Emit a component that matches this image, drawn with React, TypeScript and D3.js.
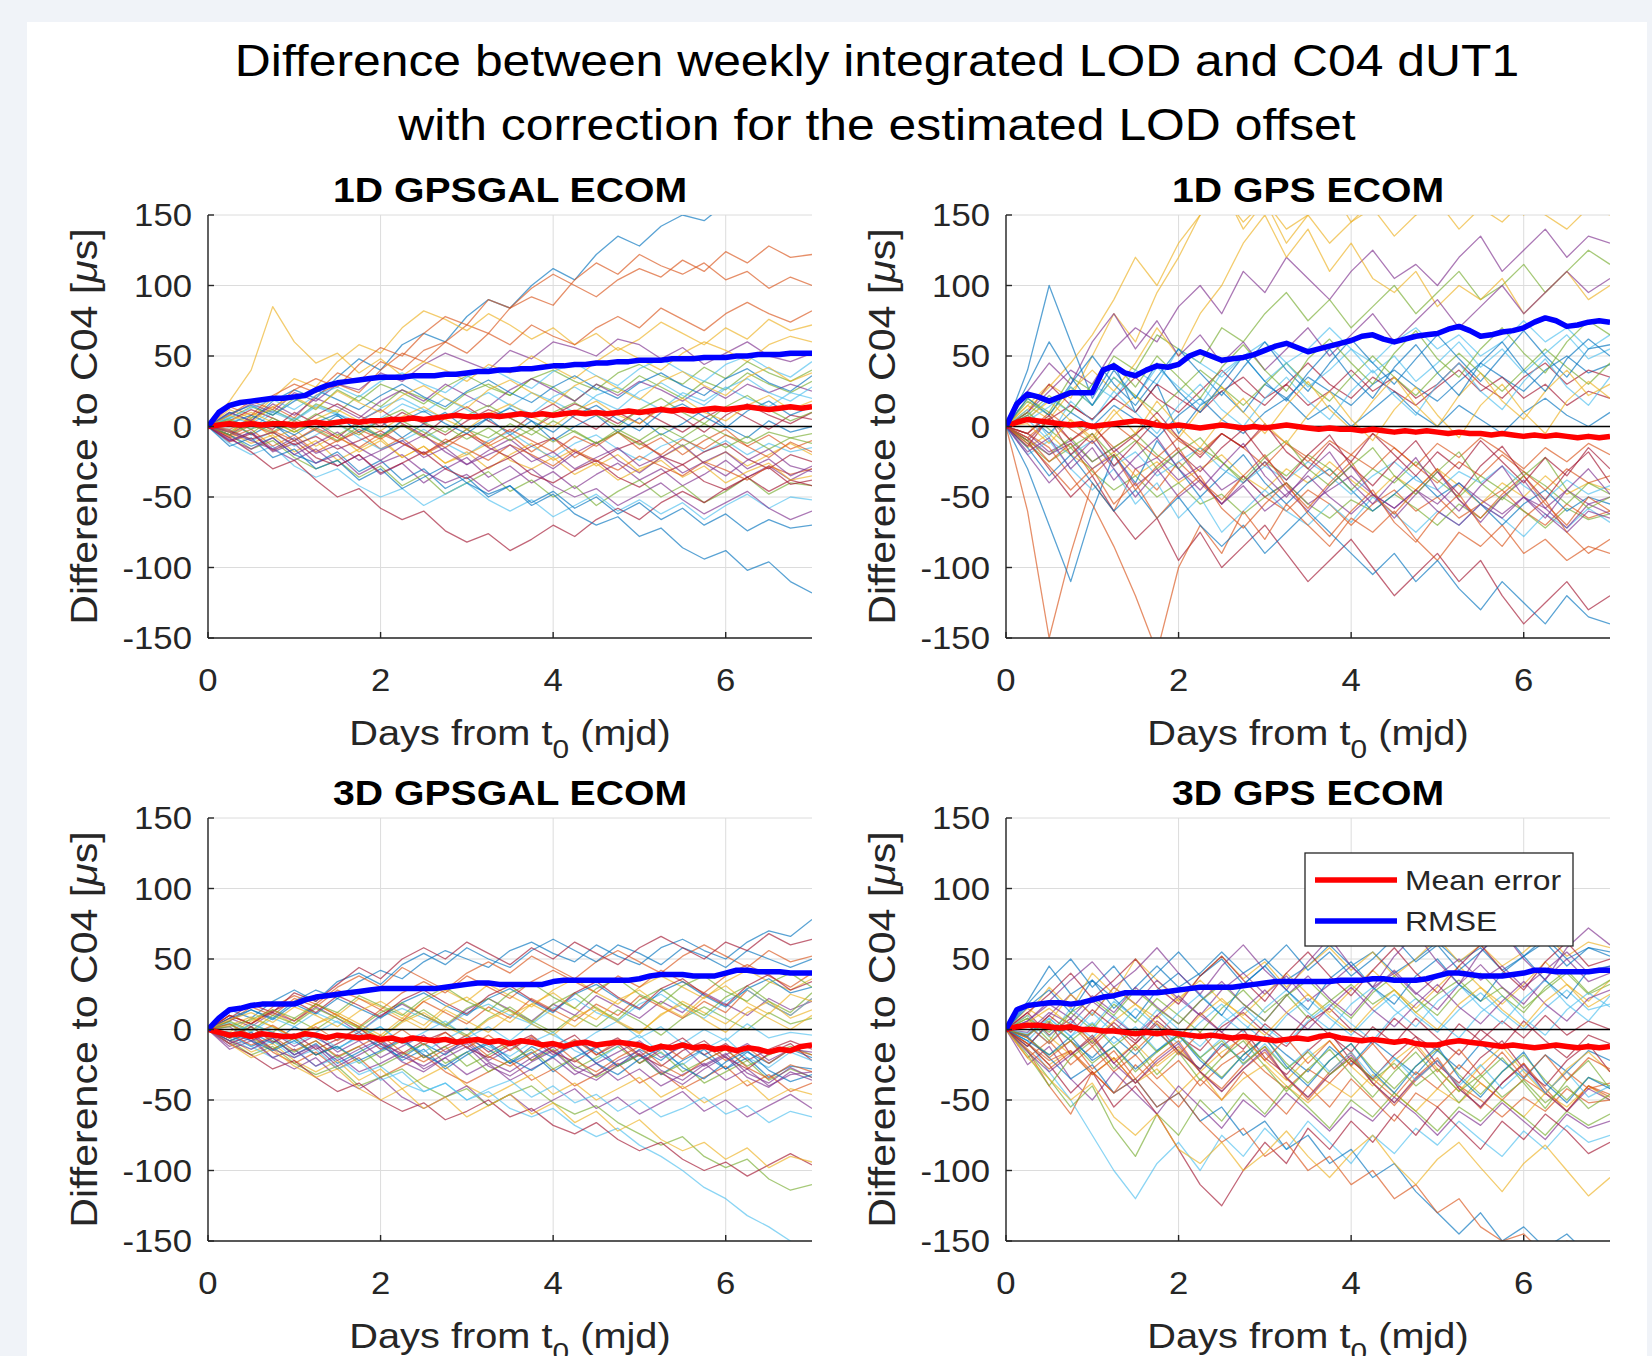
import React from 'react';
import * as d3 from 'd3';

// MATLAB-like figure: 2x2 spaghetti plots of dUT1 differences with mean / RMSE
const FIG_TITLE = ['Difference between weekly integrated LOD and C04 dUT1', 'with correction for the estimated LOD offset'];
const PANEL_TITLES = ['1D GPSGAL ECOM', '1D GPS ECOM', '3D GPSGAL ECOM', '3D GPS ECOM'];
const X_TICKS = [0, 2, 4, 6];
const Y_TICKS = [-150, -100, -50, 0, 50, 100, 150];
const LEGEND_LABELS = ['Mean error', 'RMSE'];
const LINE_COLORS = ['#0072BD', '#D95319', '#EDB120', '#7E2F8E', '#77AC30', '#4DBEEE', '#A2142F'];

const RUN_STEP = 0.25; // days between samples of the individual weeks
const STAT_STEP = 0.125; // days between samples of mean / RMSE

const RUNS_1D_GPSGAL = [
  [0,10,4,18,26,20,35,48,40,58,66,60,78,90,84,100,112,104,122,135,128,142,150,146,158,152,164,158,166],
  [0,-6,8,14,6,22,30,24,40,52,46,60,72,66,84,92,86,104,116,108,122,114,108,116,104,110,98,106,100],
  [0,12,6,20,34,28,46,58,52,70,82,76,68,80,72,62,70,58,66,54,62,74,66,58,70,62,76,68,72],
  [0,8,16,10,24,18,30,26,38,32,44,52,46,40,54,48,60,56,50,62,58,48,56,44,52,60,50,46,52],
  [0,-4,6,12,4,16,10,22,14,26,20,12,24,30,22,34,28,18,30,24,36,28,20,32,26,38,30,24,32],
  [0,6,-2,10,4,14,8,-4,6,16,10,20,12,4,14,24,18,10,22,28,20,12,24,18,28,20,14,24,20],
  [0,-6,4,-2,10,2,-8,4,12,2,-6,6,14,4,-4,8,16,6,-2,10,2,14,6,-4,8,16,8,2,10],
  [0,4,-6,2,-10,-2,8,-4,4,-8,2,10,-2,6,-6,4,-10,0,8,-4,6,-6,2,12,0,-8,4,-4,0],
  [0,-8,-2,-14,-6,-18,-10,-4,-16,-8,-20,-12,-2,-14,-6,-18,-8,-22,-12,-4,-16,-8,-20,-10,-2,-14,-6,-16,-10],
  [0,-4,-12,-6,-18,-10,-24,-16,-8,-22,-14,-26,-18,-30,-20,-12,-24,-16,-28,-20,-32,-22,-14,-26,-18,-28,-20,-12,-20],
  [0,-10,-4,-16,-24,-16,-28,-20,-34,-26,-40,-30,-22,-36,-28,-40,-32,-44,-34,-26,-38,-30,-42,-34,-24,-36,-28,-38,-30],
  [0,-6,-16,-10,-22,-30,-24,-36,-28,-42,-34,-48,-40,-32,-46,-38,-50,-42,-56,-46,-38,-50,-42,-54,-46,-36,-48,-40,-42],
  [0,-12,-20,-14,-28,-36,-30,-42,-50,-44,-56,-48,-40,-52,-60,-52,-64,-56,-48,-60,-52,-62,-54,-66,-56,-48,-58,-50,-52],
  [0,-8,-18,-30,-24,-38,-50,-44,-58,-66,-60,-74,-82,-76,-88,-80,-70,-78,-66,-58,-66,-54,-46,-54,-44,-36,-46,-38,-42],
  [0,-6,-14,-8,-20,-26,-18,-32,-24,-38,-30,-44,-36,-50,-42,-56,-48,-62,-70,-64,-78,-72,-86,-94,-88,-102,-96,-110,-118],
  [0,14,8,22,30,24,38,32,46,40,54,60,52,66,58,72,64,58,70,78,70,84,76,68,80,88,80,74,82],
  [0,18,40,85,60,45,52,38,48,36,46,40,32,44,38,50,42,34,46,56,48,40,52,60,54,46,58,64,60],
  [0,-10,-4,-18,-12,-26,-20,-34,-26,-20,-32,-40,-34,-46,-38,-30,-42,-50,-44,-56,-48,-40,-52,-62,-54,-46,-58,-66,-60],
  [0,6,14,8,20,12,26,18,30,24,16,28,36,28,22,34,40,32,26,38,44,36,30,42,34,46,38,32,40],
  [0,-2,-10,-4,-14,-6,2,-8,-16,-10,-2,-12,-20,-10,-4,-14,-22,-12,-6,-16,-24,-14,-8,-18,-10,-20,-12,-18,-15],
  [0,4,12,6,-2,8,16,8,0,10,2,-6,4,12,6,-2,8,16,10,2,12,4,-4,6,14,6,-2,8,5],
  [0,-14,-8,-22,-16,-30,-24,-38,-30,-44,-36,-28,-40,-48,-42,-54,-46,-58,-50,-62,-54,-66,-58,-70,-62,-74,-66,-72,-70],
  [0,8,18,12,26,34,28,44,56,50,66,78,72,90,84,98,108,100,92,104,112,106,118,110,124,116,128,120,122],
  [0,-4,4,-8,-2,-14,-6,-18,-10,-22,-14,-26,-20,-12,-24,-30,-22,-34,-26,-38,-30,-24,-36,-28,-40,-32,-26,-38,-35],
  [0,10,4,16,8,20,14,6,18,26,18,30,22,14,26,34,26,18,30,22,32,26,18,28,20,30,24,30,25],
  [0,-6,2,-4,6,-2,-10,0,-8,4,-4,-12,-2,-8,2,-6,4,-4,-12,-2,-10,0,-8,2,-6,-12,-4,-8,-5],
  [0,7,2,11,5,15,9,3,13,20,12,6,17,24,15,9,21,28,19,12,25,31,22,15,27,34,24,18,28],
  [0,-3,-9,-4,-13,-7,-16,-10,-3,-12,-19,-11,-5,-15,-22,-14,-8,-18,-25,-16,-10,-21,-27,-18,-12,-23,-30,-20,-25],
  [0,9,15,8,18,26,19,12,22,30,21,14,25,33,24,17,28,36,27,20,31,38,29,22,34,41,31,25,36],
  [0,-7,1,-5,4,-3,-11,-2,-9,1,-7,-15,-5,-12,-2,-10,-18,-7,-14,-4,-12,-20,-9,-16,-6,-14,-22,-11,-18],
  [0,4,10,3,-4,5,12,4,-3,7,14,5,-2,9,16,7,0,11,18,8,2,13,20,10,4,15,22,12,18],
  [0,-9,-16,-8,-20,-12,-4,-15,-24,-14,-6,-18,-27,-17,-9,-21,-30,-19,-11,-24,-33,-22,-13,-26,-35,-24,-16,-28,-32],
  [0,3,-5,6,-1,9,2,-6,5,12,3,-4,8,15,6,-2,10,17,8,0,12,20,10,2,14,22,12,4,10],
  [0,6,13,19,12,22,28,21,32,38,30,24,35,42,34,27,39,45,36,29,41,48,39,32,44,50,41,35,46],
  [0,-11,-5,-17,-10,-22,-28,-20,-33,-26,-18,-30,-37,-29,-22,-34,-40,-31,-24,-36,-43,-34,-27,-39,-45,-36,-29,-41,-38],
  [0,2,8,1,-6,3,9,0,-7,4,11,2,-5,6,13,4,-4,8,15,5,-3,10,16,7,-1,11,18,8,14],
  [0,-2,5,-3,-10,-1,-8,-15,-5,-12,-20,-9,-16,-24,-13,-20,-28,-17,-24,-31,-21,-28,-35,-25,-31,-38,-28,-34,-30],
  [0,8,3,14,21,13,25,17,10,22,29,20,13,26,33,24,16,29,36,27,19,32,39,29,22,35,42,32,38],
  [0,-4,-10,-16,-8,-19,-13,-24,-17,-10,-22,-15,-27,-20,-13,-25,-18,-30,-22,-15,-28,-21,-33,-25,-18,-30,-23,-35,-28],
  [0,5,-2,4,-4,3,-6,2,-7,1,-8,0,-9,-1,-10,-2,-11,-3,-12,-4,-13,-5,-14,-6,-15,-7,-16,-8,-12],
];

const RUNS_1D_GPS = [
  [0,40,100,60,20,45,10,30,-5,15,25,10,30,20,35,25,15,30,40,28,18,32,45,35,25,40,50,38,44],
  [0,-60,-150,-90,-40,-60,-30,-45,-25,-40,-55,-35,-50,-60,-45,-55,-70,-55,-45,-60,-50,-65,-55,-45,-60,-70,-55,-65,-60],
  [0,15,30,20,50,80,60,95,120,150,170,140,160,130,150,170,145,160,175,150,165,180,160,170,150,165,175,160,170],
  [0,10,25,40,30,55,70,60,85,100,80,110,95,120,105,90,110,125,105,115,100,120,135,110,125,140,120,135,130],
  [0,20,10,35,25,50,40,65,55,45,70,60,80,95,75,90,70,85,100,80,95,110,90,100,115,95,110,125,115],
  [0,5,20,10,30,20,40,30,55,45,35,50,60,45,55,70,55,45,60,70,55,65,50,60,75,60,70,55,65],
  [0,-10,5,15,5,20,10,30,20,10,25,35,20,30,15,25,40,25,35,20,30,45,30,20,35,45,30,40,35],
  [0,8,-5,10,0,15,5,-8,8,20,5,-5,10,20,5,15,0,12,25,10,0,15,5,-5,10,20,8,0,10],
  [0,-8,5,-10,0,-15,-5,5,-10,-20,-5,-15,0,-12,-25,-10,-20,-5,-15,-28,-12,-22,-8,-18,-30,-15,-25,-12,-20],
  [0,-15,-5,-20,-30,-18,-35,-25,-40,-30,-20,-35,-45,-30,-40,-25,-38,-50,-35,-45,-30,-42,-55,-40,-50,-35,-48,-40,-45],
  [0,-5,-18,-10,-25,-15,-30,-22,-38,-28,-45,-35,-50,-40,-55,-45,-35,-48,-58,-45,-55,-40,-52,-62,-50,-58,-45,-55,-50],
  [0,-12,-25,-15,-32,-45,-35,-50,-40,-55,-48,-62,-50,-40,-55,-65,-52,-60,-48,-58,-70,-55,-65,-50,-60,-72,-58,-66,-62],
  [0,-20,-10,-30,-45,-30,-55,-40,-65,-50,-75,-60,-45,-60,-70,-55,-68,-50,-62,-75,-60,-70,-55,-65,-78,-62,-72,-58,-68],
  [0,-10,-30,-50,-35,-60,-80,-65,-95,-75,-100,-85,-70,-90,-110,-95,-80,-100,-120,-105,-90,-110,-95,-120,-140,-125,-110,-130,-120],
  [0,-30,-70,-110,-60,-20,-40,-10,-30,-50,-35,-20,-40,-55,-40,-30,-45,-60,-48,-35,-50,-40,-55,-70,-55,-45,-60,-50,-55],
  [0,-5,-15,-35,-55,-85,-120,-160,-100,-70,-90,-60,-80,-55,-70,-85,-65,-75,-60,-80,-95,-75,-85,-70,-90,-80,-95,-85,-90],
  [0,15,5,25,40,25,45,70,50,80,100,130,150,120,140,110,130,105,95,110,85,100,90,105,80,95,110,90,100],
  [0,25,45,30,60,80,55,75,50,65,45,60,40,55,70,50,65,80,60,75,90,70,85,100,80,95,110,95,105],
  [0,-10,-20,-8,-25,-15,-5,-20,-30,-15,-25,-40,-25,-35,-20,-30,-45,-30,-40,-25,-38,-50,-35,-45,-32,-42,-55,-40,-48],
  [0,5,-10,-20,-10,-28,-18,-35,-25,-15,-30,-40,-28,-38,-25,-35,-48,-35,-25,-38,-45,-32,-40,-28,-42,-52,-38,-48,-42],
  [0,10,30,15,5,20,35,20,10,25,40,25,15,30,45,30,20,35,25,15,28,40,25,35,20,30,15,25,20],
  [0,-15,-35,-20,-40,-60,-45,-65,-50,-70,-85,-70,-90,-75,-60,-75,-90,-105,-90,-110,-95,-115,-130,-110,-125,-140,-120,-135,-140],
  [0,-5,10,-2,-12,2,-10,-22,-8,-18,-5,-15,-28,-12,-22,-35,-20,-30,-15,-28,-40,-25,-35,-20,-32,-45,-30,-40,-35],
  [0,12,28,45,65,90,120,100,130,150,165,145,160,140,150,130,145,155,135,150,160,140,155,145,160,150,140,155,150],
  [0,-8,-20,-12,-30,-20,-42,-30,-50,-38,-55,-42,-60,-48,-35,-50,-62,-48,-58,-45,-60,-70,-55,-65,-50,-62,-75,-60,-65],
  [0,18,8,28,15,35,22,10,25,40,28,15,30,45,30,18,35,50,35,22,38,52,38,25,40,55,42,30,45],
  [0,12,-8,18,4,25,10,-5,15,30,12,0,20,35,18,5,25,40,22,8,30,45,25,12,32,48,28,15,35],
  [0,-14,6,-20,-5,-28,-12,5,-18,-32,-15,-2,-22,-38,-20,-6,-28,-42,-25,-10,-32,-48,-28,-14,-35,-52,-32,-18,-40],
  [0,20,8,30,50,30,15,35,55,38,22,42,60,40,25,45,62,45,30,48,65,48,32,50,68,50,35,55,58],
  [0,-8,-25,-12,-35,-20,-45,-28,-15,-38,-52,-35,-20,-42,-58,-40,-25,-48,-62,-45,-30,-52,-65,-48,-35,-55,-70,-50,-60],
  [0,6,18,4,-10,8,22,5,-8,12,28,10,-5,15,32,12,-2,18,35,15,0,22,38,18,5,25,40,22,30],
  [0,-20,-40,-25,-10,-30,-50,-32,-18,-38,-55,-40,-25,-45,-60,-42,-28,-48,-65,-48,-32,-52,-68,-50,-38,-58,-72,-55,-62],
  [0,10,-2,-15,-5,-22,-10,-30,-18,-8,-25,-38,-22,-10,-30,-42,-28,-15,-35,-48,-32,-18,-40,-52,-35,-22,-45,-58,-50],
  [0,4,14,28,15,35,20,42,28,15,38,50,32,45,28,40,55,38,50,32,45,60,42,55,38,52,65,48,55],
  [0,-5,8,-10,2,-18,-6,10,-8,-22,-5,-15,2,-18,-30,-12,-25,-5,-20,-35,-18,-30,-10,-25,-40,-22,-35,-15,-30],
  [0,30,60,35,15,40,20,45,25,10,30,50,32,18,38,55,35,20,42,58,38,22,45,60,40,25,48,62,50],
  [0,-12,-28,-45,-30,-55,-40,-65,-48,-35,-58,-72,-55,-40,-62,-78,-60,-45,-68,-82,-62,-48,-70,-85,-65,-52,-75,-90,-80],
  [0,2,-12,5,-8,12,-5,18,0,-15,5,20,2,-12,8,25,5,-10,12,28,8,-8,15,30,10,-5,18,32,20],
  [0,-18,-8,-30,-15,-38,-22,-8,-30,-45,-28,-12,-35,-50,-32,-18,-40,-55,-38,-22,-45,-60,-42,-28,-50,-65,-45,-30,-48],
  [0,8,22,10,30,45,28,50,35,20,42,58,40,25,48,62,45,30,52,68,48,35,55,70,52,38,60,75,65],
];

const RUNS_3D_GPSGAL = [
  [0,6,14,8,20,28,22,34,42,36,48,56,50,44,56,62,54,48,60,52,46,58,64,56,50,62,70,66,78],
  [0,10,4,16,24,18,30,38,30,44,36,28,40,48,40,52,44,36,48,56,48,40,52,60,52,44,56,48,52],
  [0,-4,6,12,4,18,10,22,16,8,20,28,20,32,24,16,28,36,26,18,30,38,30,22,34,42,34,28,36],
  [0,8,2,12,6,16,8,-2,10,18,10,2,14,22,14,6,18,10,24,16,8,20,12,26,18,10,22,14,20],
  [0,-6,4,-2,8,0,10,2,-6,6,14,4,-4,8,16,6,-2,10,2,14,6,-4,8,16,8,0,12,4,8],
  [0,4,-4,2,-8,-2,6,-4,2,-10,-2,6,-6,2,-8,4,-4,-12,-2,6,-6,2,-10,0,-8,4,-6,-2,-4],
  [0,-8,-2,-14,-6,-18,-10,-2,-14,-6,-20,-12,-4,-16,-8,-22,-12,-4,-18,-10,-24,-14,-6,-18,-10,-22,-14,-8,-14],
  [0,-4,-12,-6,-18,-10,-24,-16,-8,-22,-14,-28,-18,-10,-24,-16,-30,-20,-12,-26,-18,-32,-22,-14,-28,-20,-34,-26,-28],
  [0,-10,-4,-16,-24,-16,-28,-20,-34,-26,-18,-30,-38,-30,-22,-36,-28,-40,-32,-24,-38,-30,-42,-34,-26,-40,-32,-44,-38],
  [0,-6,-16,-10,-22,-30,-22,-36,-28,-42,-34,-26,-40,-48,-40,-32,-46,-38,-50,-42,-34,-48,-40,-52,-44,-36,-50,-42,-46],
  [0,-12,-6,-20,-28,-20,-34,-42,-34,-48,-56,-48,-40,-54,-46,-58,-50,-42,-56,-48,-60,-52,-44,-58,-50,-62,-54,-46,-56],
  [0,-8,-18,-12,-24,-32,-26,-40,-34,-28,-40,-48,-42,-54,-46,-40,-52,-60,-54,-66,-74,-82,-76,-90,-98,-92,-106,-114,-110],
  [0,-4,-12,-20,-14,-26,-20,-32,-26,-38,-44,-38,-50,-44,-56,-62,-56,-68,-76,-70,-82,-90,-100,-112,-120,-132,-140,-150,-160],
  [0,-10,-18,-28,-22,-34,-44,-38,-50,-58,-52,-64,-58,-50,-62,-56,-68,-74,-66,-78,-86,-80,-92,-100,-94,-104,-96,-88,-96],
  [0,14,8,20,28,20,34,40,32,46,54,46,58,50,44,56,64,56,48,60,54,46,58,52,44,56,50,44,50],
  [0,6,16,10,22,16,28,22,14,26,34,26,38,30,22,34,42,34,26,38,30,42,34,26,38,46,38,30,40],
  [0,-2,8,2,-6,4,12,4,-4,8,0,14,6,-2,10,18,10,2,14,6,-2,10,20,12,4,16,8,0,10],
  [0,-14,-8,-20,-14,-26,-18,-30,-24,-16,-28,-20,-32,-24,-36,-28,-20,-32,-24,-36,-28,-40,-32,-24,-36,-28,-40,-32,-30],
  [0,4,-6,-14,-6,-18,-12,-24,-16,-8,-20,-12,-26,-18,-10,-22,-14,-28,-20,-12,-24,-16,-30,-22,-14,-26,-18,-12,-18],
  [0,-6,-14,-8,-20,-14,-28,-22,-36,-30,-44,-38,-50,-42,-36,-48,-40,-52,-46,-58,-50,-62,-56,-48,-60,-54,-66,-58,-62],
  [0,8,18,12,26,20,32,44,36,50,58,50,62,54,46,58,50,62,54,46,58,66,58,50,62,56,68,60,64],
  [0,-8,-2,-10,2,-6,-14,-4,-12,-20,-10,-18,-6,-14,-24,-12,-20,-8,-16,-26,-14,-22,-10,-18,-28,-16,-24,-14,-20],
  [0,10,4,14,6,18,10,2,14,6,20,12,4,16,8,22,14,6,18,10,24,16,8,20,12,28,18,10,22],
  [0,-10,-20,-14,-26,-34,-28,-42,-50,-42,-56,-48,-62,-54,-46,-60,-52,-66,-58,-72,-64,-78,-86,-80,-92,-84,-98,-90,-94],
  [0,2,-8,-2,-12,-4,-16,-8,-20,-12,-4,-16,-8,-22,-14,-6,-18,-10,-24,-16,-8,-20,-12,-26,-18,-10,-22,-14,-16],
  [0,-6,2,-8,-16,-8,-20,-12,-26,-18,-10,-24,-16,-30,-22,-14,-28,-20,-34,-26,-18,-32,-24,-38,-30,-22,-36,-28,-34],
  [0,5,-2,8,2,12,5,-2,9,15,8,2,12,18,10,4,15,22,12,6,18,25,15,8,20,28,18,10,22],
  [0,-6,2,-9,-3,-14,-7,1,-10,-17,-8,-2,-13,-20,-11,-4,-16,-23,-13,-6,-18,-26,-15,-8,-20,-28,-17,-10,-22],
  [0,8,14,7,18,11,22,15,8,19,26,17,10,22,29,20,12,25,32,22,14,27,34,24,16,29,36,26,30],
  [0,-3,-11,-5,-15,-8,-19,-12,-4,-16,-23,-14,-7,-19,-26,-17,-9,-22,-30,-20,-12,-25,-33,-22,-14,-27,-35,-25,-30],
  [0,3,9,2,-5,4,10,1,-6,5,12,2,-5,7,14,4,-4,9,16,5,-3,11,18,7,-2,12,20,8,14],
  [0,-8,-14,-6,-18,-11,-22,-14,-7,-19,-26,-17,-10,-23,-30,-20,-12,-26,-33,-22,-15,-29,-36,-25,-17,-31,-38,-27,-34],
  [0,6,-1,10,4,15,8,1,12,19,10,3,15,22,13,5,18,26,15,7,21,29,18,10,23,31,20,12,26],
  [0,-4,4,-2,-10,-3,-13,-6,2,-9,-16,-7,1,-12,-19,-9,-2,-15,-22,-12,-4,-17,-25,-14,-6,-20,-27,-16,-22],
  [0,10,4,13,20,12,24,17,9,21,28,19,11,24,31,21,13,26,34,23,15,29,36,25,17,31,39,28,34],
  [0,-2,-8,-15,-8,-18,-12,-22,-15,-7,-18,-26,-16,-9,-21,-29,-19,-11,-24,-32,-21,-13,-27,-35,-23,-15,-29,-37,-32],
  [0,4,-4,3,-6,2,-8,1,-10,0,-11,-2,-13,-4,-15,-5,-16,-7,-18,-8,-19,-10,-21,-11,-22,-13,-24,-14,-18],
  [0,7,12,5,16,10,2,13,20,11,3,16,23,13,5,18,26,15,7,21,28,17,9,23,31,19,11,25,20],
  [0,-10,-4,-14,-20,-12,-26,-18,-10,-23,-30,-20,-12,-26,-33,-23,-15,-29,-36,-25,-17,-31,-39,-28,-19,-34,-41,-30,-36],
  [0,2,7,14,8,18,12,24,17,10,22,30,20,13,26,33,23,15,29,36,25,18,31,38,27,20,33,40,30],
];

const RUNS_3D_GPS = [
  [0,20,45,25,35,15,30,45,30,40,55,40,50,35,45,60,45,55,40,50,62,48,58,42,52,65,50,58,55],
  [0,-15,-40,-60,-30,-45,-25,-40,-55,-35,-50,-30,-45,-60,-40,-55,-35,-50,-65,-45,-55,-40,-50,-62,-48,-58,-42,-52,-50],
  [0,10,30,15,40,25,50,35,20,38,52,36,48,30,45,58,42,55,38,50,65,48,60,45,55,68,52,62,58],
  [0,-5,10,25,10,30,18,35,22,10,28,40,25,38,20,32,45,30,40,25,38,50,35,45,30,42,55,40,45],
  [0,8,-8,12,0,18,5,22,10,-2,15,28,12,25,8,20,32,18,28,12,25,35,20,30,15,28,40,25,32],
  [0,-8,8,-5,12,-2,15,2,-10,5,18,4,-8,10,22,8,-4,12,25,10,-2,14,26,12,0,15,28,14,18],
  [0,12,-4,8,-10,5,-8,10,-5,-15,2,12,-2,-12,5,15,0,-10,8,-5,-15,4,-8,6,-6,10,-4,6,0],
  [0,-12,4,-8,-20,-5,-18,-2,-15,-28,-10,-22,-5,-18,-30,-12,-25,-8,-20,-32,-15,-28,-10,-22,-35,-18,-30,-15,-22],
  [0,-20,-8,-25,-12,-30,-18,-35,-22,-40,-25,-15,-30,-42,-28,-38,-22,-35,-48,-30,-42,-25,-38,-50,-35,-45,-30,-42,-38],
  [0,-10,-25,-15,-32,-20,-38,-28,-45,-30,-50,-35,-25,-40,-52,-38,-48,-32,-45,-58,-42,-52,-38,-50,-62,-45,-55,-40,-50],
  [0,-25,-12,-35,-50,-30,-45,-60,-40,-55,-70,-50,-62,-45,-58,-72,-55,-65,-48,-60,-75,-58,-68,-52,-65,-78,-60,-70,-65],
  [0,-15,-35,-55,-40,-70,-90,-60,-75,-50,-65,-45,-60,-40,-55,-70,-50,-62,-45,-58,-72,-55,-65,-50,-62,-75,-58,-68,-60],
  [0,-8,-30,-50,-75,-100,-120,-95,-80,-100,-75,-90,-70,-85,-65,-80,-95,-75,-88,-70,-82,-65,-78,-90,-72,-85,-68,-80,-75],
  [0,-10,-25,-45,-30,-55,-40,-60,-85,-110,-125,-100,-80,-95,-70,-85,-65,-80,-60,-75,-55,-70,-85,-65,-78,-60,-72,-88,-80],
  [0,-5,-20,-35,-25,-45,-35,-55,-45,-65,-55,-75,-65,-85,-75,-95,-85,-105,-95,-115,-130,-145,-130,-150,-140,-155,-145,-160,-150],
  [0,-10,-22,-15,-30,-45,-35,-55,-45,-65,-80,-70,-90,-80,-100,-90,-110,-100,-120,-110,-130,-120,-140,-150,-145,-160,-150,-155,-158],
  [0,15,5,25,10,30,18,8,22,35,20,10,25,40,25,12,28,42,28,15,30,45,30,18,32,48,32,20,35],
  [0,6,18,8,24,12,30,16,4,20,34,18,6,24,38,22,10,28,42,26,14,32,46,30,18,36,50,34,40],
  [0,-6,-18,-8,-24,-12,-30,-16,-4,-20,-34,-18,-6,-24,-38,-22,-10,-28,-42,-26,-14,-32,-46,-30,-18,-36,-50,-34,-40],
  [0,4,-10,6,-6,10,-4,14,0,-12,4,16,2,-10,6,18,4,-8,10,22,6,-6,12,24,8,-4,14,26,16],
  [0,-4,10,-2,14,2,-10,6,-6,12,-2,-14,4,-8,10,-4,-16,2,-10,8,-6,-18,0,-12,6,-8,-20,-4,-10],
  [0,18,35,50,30,45,25,40,55,38,50,32,45,60,42,55,38,50,65,48,60,42,55,70,52,62,45,58,52],
  [0,-14,-28,-16,-32,-20,-38,-24,-12,-30,-44,-28,-16,-34,-50,-32,-20,-38,-54,-36,-22,-40,-56,-38,-24,-42,-58,-40,-46],
  [0,10,-5,-18,-6,-22,-10,-26,-14,-30,-16,-6,-22,-36,-20,-8,-26,-40,-22,-10,-28,-44,-26,-12,-30,-46,-28,-16,-30],
  [0,-2,12,4,20,8,-4,10,24,10,-2,14,28,12,0,16,30,14,2,18,32,16,4,20,34,18,6,22,28],
  [0,-18,-40,-20,-8,-28,-12,-32,-16,-36,-20,-8,-26,-44,-28,-14,-32,-48,-30,-16,-34,-52,-34,-20,-38,-56,-36,-22,-42],
  [0,10,-5,15,2,20,8,-4,12,25,10,-2,15,28,12,0,18,30,14,2,20,32,16,4,22,35,18,6,24],
  [0,-12,5,-18,-4,-24,-10,4,-16,-28,-12,0,-20,-32,-15,-2,-22,-35,-18,-5,-25,-38,-20,-8,-28,-40,-22,-10,-30],
  [0,16,28,12,35,22,8,28,40,24,10,32,45,28,14,36,48,30,18,38,50,32,20,40,52,35,22,42,45],
  [0,-6,-20,-8,-28,-15,-35,-20,-8,-30,-42,-25,-12,-35,-48,-30,-16,-38,-52,-34,-20,-42,-55,-38,-24,-45,-58,-40,-48],
  [0,5,15,3,-8,6,18,4,-6,10,22,8,-4,12,25,10,-2,15,28,12,0,18,30,14,2,20,32,16,25],
  [0,-16,-30,-18,-6,-24,-38,-22,-10,-30,-44,-28,-14,-34,-48,-32,-18,-38,-52,-35,-22,-42,-55,-38,-25,-45,-58,-42,-50],
  [0,8,-2,12,22,10,28,15,4,20,32,18,6,24,35,20,8,26,38,22,10,28,40,24,12,30,42,26,35],
  [0,-3,8,-5,5,-10,2,-15,-2,-20,-6,-25,-10,-28,-14,-30,-16,-34,-20,-36,-22,-40,-25,-42,-28,-45,-30,-48,-40],
  [0,12,25,40,22,35,50,30,18,38,52,35,20,40,55,38,24,42,58,40,26,45,60,42,28,48,62,45,50],
  [0,-8,-18,-5,-22,-12,-28,-15,-4,-22,-35,-18,-6,-26,-40,-22,-10,-30,-45,-26,-12,-34,-48,-30,-16,-38,-52,-34,-42],
  [0,3,-10,4,-12,2,-15,0,-18,-2,-20,-4,-22,-6,-24,-8,-26,-10,-28,-12,-30,-14,-32,-16,-34,-18,-36,-20,-28],
  [0,-20,-35,-50,-38,-62,-75,-60,-85,-95,-80,-100,-88,-72,-90,-105,-88,-75,-95,-110,-92,-80,-98,-115,-95,-82,-100,-118,-105],
  [0,6,20,35,48,30,42,58,40,25,45,60,42,28,48,65,45,30,52,68,48,32,55,70,50,35,58,72,60],
  [0,-4,6,-8,4,-12,0,-16,-4,-20,-8,-24,-12,-28,-16,-32,-20,-36,-24,-40,-28,-44,-32,-48,-36,-52,-40,-56,-46],
];

const MEAN_1D_GPSGAL = [0,1,2,1,2,1,2,2,1,2,3,2,3,4,3,4,4,5,5,6,5,6,7,8,7,7,8,7,8,9,8,9,8,9,10,9,10,9,10,11,10,11,12,11,12,11,12,13,12,13,14,13,12,13,14,13,14];
const RMSE_1D_GPSGAL = [0,10,15,17,18,19,20,20,21,22,26,29,31,32,33,34,35,35,35,36,36,36,37,37,38,39,39,40,40,41,41,42,43,43,44,44,45,45,46,46,47,47,47,48,48,48,49,49,49,50,50,51,51,51,52,52,52];
const MEAN_1D_GPS = [0,3,5,4,3,2,1,2,0,1,2,3,4,3,1,0,1,0,-1,0,1,0,-1,0,-1,0,1,0,-1,-2,-1,-2,-2,-3,-2,-3,-4,-3,-4,-3,-4,-5,-4,-5,-5,-6,-5,-6,-7,-6,-7,-6,-7,-8,-7,-8,-7];
const RMSE_1D_GPS = [0,16,23,21,18,21,24,24,24,40,43,38,36,40,43,42,44,50,53,50,47,48,49,51,54,57,59,56,53,55,57,59,61,64,65,62,60,62,64,65,66,69,71,68,64,65,67,68,70,74,77,75,71,72,74,75,74];
const MEAN_3D_GPSGAL = [0,-2,-4,-3,-5,-3,-4,-5,-5,-3,-4,-6,-4,-5,-6,-5,-7,-6,-8,-6,-7,-8,-7,-9,-8,-7,-9,-8,-10,-8,-9,-11,-10,-12,-10,-9,-11,-10,-9,-10,-11,-14,-12,-13,-11,-13,-12,-14,-13,-15,-13,-14,-16,-14,-15,-12,-11];
const RMSE_3D_GPSGAL = [0,8,14,15,17,18,18,18,18,21,23,24,25,26,27,28,29,29,29,29,29,29,30,31,32,33,33,32,32,32,32,32,34,35,35,35,35,35,35,35,36,38,39,39,39,38,38,38,40,42,42,41,41,41,40,40,40];
const MEAN_3D_GPS = [0,2,3,3,2,1,2,0,0,-1,-1,-2,-3,-2,-3,-2,-3,-4,-5,-4,-5,-6,-5,-6,-7,-8,-7,-6,-7,-5,-4,-6,-7,-8,-7,-8,-9,-8,-10,-11,-11,-9,-8,-9,-10,-11,-12,-11,-12,-13,-12,-11,-12,-13,-12,-13,-12];
const RMSE_3D_GPS = [0,14,17,18,19,19,18,19,21,23,24,26,26,26,26,27,28,29,30,30,30,30,31,32,33,34,34,34,34,34,34,35,35,35,36,36,35,35,35,36,38,40,40,39,38,38,38,39,40,42,42,41,41,41,41,42,42];

const PANEL_RUNS = [RUNS_1D_GPSGAL, RUNS_1D_GPS, RUNS_3D_GPSGAL, RUNS_3D_GPS];
const PANEL_MEANS = [MEAN_1D_GPSGAL, MEAN_1D_GPS, MEAN_3D_GPSGAL, MEAN_3D_GPS];
const PANEL_RMSES = [RMSE_1D_GPSGAL, RMSE_1D_GPS, RMSE_3D_GPSGAL, RMSE_3D_GPS];

// layout
const FIG_W = 1652;
const FIG_H = 1356;
const COL_X = [208, 1006];
const ROW_Y = [215, 818];
const AX_W = 604;
const AX_H = 423;
const SX = 1.12; // glyphs in the picture are a bit wider than Arial
const FONT = '"Liberation Sans", Arial, Helvetica, sans-serif';
const INK = '#262626';
const TICK_FS = 31;

type TxtProps = {
  x: number; y: number; size: number; anchor?: string; weight?: string;
  rotate?: number; fill?: string; baseline?: string; children: React.ReactNode;
};

const Txt = ({ x, y, size, anchor = 'middle', weight = 'normal', rotate = 0, fill = INK, baseline, children }: TxtProps) => (
  <text
    transform={`translate(${x},${y}) rotate(${rotate}) scale(${SX},1)`}
    fontFamily={FONT}
    fontSize={size}
    fontWeight={weight}
    textAnchor={anchor}
    dominantBaseline={baseline}
    fill={fill}
  >
    {children}
  </text>
);

const XLabel = ({ x, y, size }: { x: number; y: number; size: number }) => (
  <text transform={`translate(${x},${y}) scale(${SX},1)`} fontFamily={FONT} fontSize={size} textAnchor="middle" fill={INK}>
    <tspan>Days from t</tspan>
    <tspan dy={13} fontSize={size * 0.75}>0</tspan>
    <tspan dy={-13}> (mjd)</tspan>
  </text>
);

const YLabel = ({ x, y, size }: { x: number; y: number; size: number }) => (
  <text transform={`translate(${x},${y}) rotate(-90) scale(${SX},1)`} fontFamily={FONT} fontSize={size} textAnchor="middle" fill={INK}>
    <tspan>Difference to C04 [</tspan>
    <tspan fontStyle="italic">μ</tspan>
    <tspan>s]</tspan>
  </text>
);

const Panel = ({ idx }: { idx: number }) => {
  const left = COL_X[idx % 2];
  const top = ROW_Y[Math.floor(idx / 2)];
  const x = d3.scaleLinear().domain([0, 7]).range([0, AX_W]);
  const y = d3.scaleLinear().domain([-150, 150]).range([AX_H, 0]);
  const runLine = d3.line<number>().x((_, i) => x(i * RUN_STEP)).y((d) => y(d));
  const statLine = d3.line<number>().x((_, i) => x(i * STAT_STEP)).y((d) => y(d));
  const clipId = `clip-${idx}`;

  return (
    <g transform={`translate(${left},${top})`}>
      <defs>
        <clipPath id={clipId}>
          <rect x={0} y={0} width={AX_W} height={AX_H} />
        </clipPath>
      </defs>
      <rect x={0} y={0} width={AX_W} height={AX_H} fill="#fff" />
      {/* grid */}
      {X_TICKS.map((t) => (
        <line key={`gx${t}`} x1={x(t)} x2={x(t)} y1={0} y2={AX_H} stroke="#dcdcdc" strokeWidth={1} />
      ))}
      {Y_TICKS.map((t) => (
        <line key={`gy${t}`} x1={0} x2={AX_W} y1={y(t)} y2={y(t)} stroke="#dcdcdc" strokeWidth={1} />
      ))}
      <g clipPath={`url(#${clipId})`}>
        {PANEL_RUNS[idx].map((run, i) => (
          <path key={i} d={runLine(run) || ''} fill="none" stroke={LINE_COLORS[i % LINE_COLORS.length]}
            strokeWidth={1.3} strokeOpacity={0.65} strokeLinejoin="round" />
        ))}
        <line x1={0} x2={AX_W} y1={y(0)} y2={y(0)} stroke="#000" strokeWidth={1.5} />
        <path d={statLine(PANEL_MEANS[idx]) || ''} fill="none" stroke="#ff0000" strokeWidth={5.5} strokeLinejoin="round" />
        <path d={statLine(PANEL_RMSES[idx]) || ''} fill="none" stroke="#0000ff" strokeWidth={5.5} strokeLinejoin="round" />
      </g>
      {/* axes */}
      <line x1={0} x2={AX_W} y1={AX_H} y2={AX_H} stroke={INK} strokeWidth={1.4} />
      <line x1={0} x2={0} y1={0} y2={AX_H} stroke={INK} strokeWidth={1.4} />
      {X_TICKS.map((t) => (
        <g key={`tx${t}`}>
          <line x1={x(t)} x2={x(t)} y1={AX_H} y2={AX_H - 6} stroke={INK} strokeWidth={1.4} />
          <Txt x={x(t)} y={AX_H + 53} size={TICK_FS}>{t}</Txt>
        </g>
      ))}
      {Y_TICKS.map((t) => (
        <g key={`ty${t}`}>
          <line x1={0} x2={6} y1={y(t)} y2={y(t)} stroke={INK} strokeWidth={1.4} />
          <Txt x={-16} y={y(t) + 11} size={TICK_FS} anchor="end">{t}</Txt>
        </g>
      ))}
      <Txt x={AX_W / 2} y={-13} size={35} weight="bold" fill="#000">{PANEL_TITLES[idx]}</Txt>
      <XLabel x={AX_W / 2} y={AX_H + 107} size={35.5} />
      <YLabel x={-111} y={AX_H / 2} size={36.7} />
      {idx === 3 && (
        <g transform={`translate(${1305 - left},${853 - top})`}>
          <rect x={0} y={0} width={268} height={93} fill="#fff" stroke={INK} strokeWidth={1.3} />
          <line x1={10} x2={92} y1={27} y2={27} stroke="#ff0000" strokeWidth={5.5} />
          <line x1={10} x2={92} y1={68} y2={68} stroke="#0000ff" strokeWidth={5.5} />
          <Txt x={100} y={27} size={28.5} anchor="start" baseline="central">{LEGEND_LABELS[0]}</Txt>
          <Txt x={100} y={68} size={28.5} anchor="start" baseline="central">{LEGEND_LABELS[1]}</Txt>
        </g>
      )}
    </g>
  );
};

export default function App() {
  return (
    <svg width={FIG_W} height={FIG_H} style={{ position: 'absolute', left: 0, top: 0 }}>
      <rect x={0} y={0} width={FIG_W} height={FIG_H} fill="#f0f3f8" />
      <rect x={27} y={22} width={1620} height={FIG_H - 22} fill="#fff" />
      <Txt x={877} y={76} size={44.5} fill="#000">{FIG_TITLE[0]}</Txt>
      <Txt x={877} y={140} size={44.5} fill="#000">{FIG_TITLE[1]}</Txt>
      {[0, 1, 2, 3].map((i) => (
        <Panel key={i} idx={i} />
      ))}
    </svg>
  );
}
